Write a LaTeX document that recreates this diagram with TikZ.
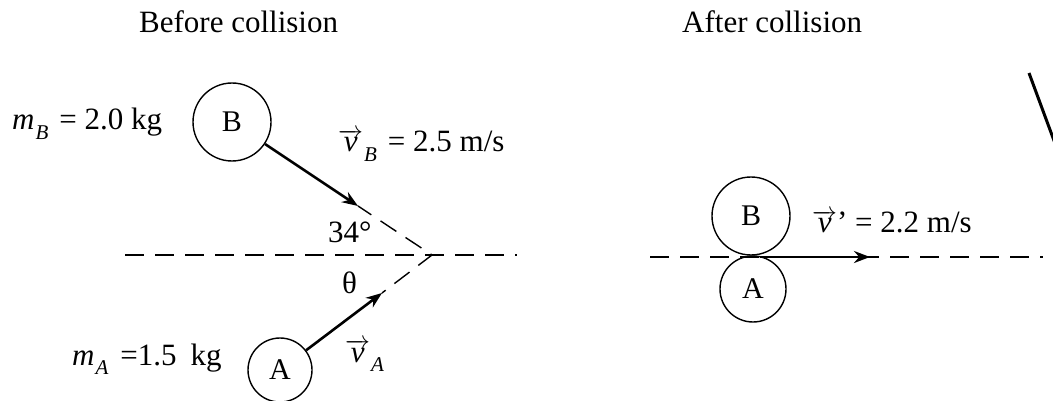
\documentclass[tikz,border=0pt]{standalone}
\usepackage{fontspec}
\setmainfont{Liberation Serif}
\usetikzlibrary{arrows.meta}
\newcommand{\vel}[1]{\ensuremath{\overrightarrow{\mbox{\itshape #1}}}}
\newcommand{\sub}[1]{\raisebox{-0.32em}{\fontsize{21}{21}\selectfont\itshape #1}}

\begin{document}
\begin{tikzpicture}[x=1pt, y=-1pt,
      every node/.style={font=\fontsize{31}{36}\selectfont},
      lbl/.style={anchor=base west, inner sep=0pt},
      ball/.style={draw, circle, line width=1.4pt, inner sep=0pt,
        font=\fontsize{30}{34}\selectfont},
      axis/.style={dash pattern=on 19pt off 11pt, line width=1.4pt},
      vec/.style={line width=2.6pt, -{Stealth[length=16pt, width=12pt]}}]
    \useasboundingbox (0,0) rectangle (1053,401);
    % before collision
    \node[lbl] (before) at (139,33) {Before collision};
    \node[ball, minimum size=78pt] (B) at (232,122) {B};
    \node[ball, minimum size=64pt] (A) at (280,370) {A};
    \coordinate (axisL) at (125,255);
    \coordinate (axisR) at (517,255);
    \coordinate (apex) at (432,255);
    \coordinate (tipB) at (358,206);
    \coordinate (tipA) at (382,293);
    \draw[axis] (axisL) -- (axisR);
    \draw[axis, dash phase=3pt] (tipB) -- (apex) -- (tipA);
    \draw[vec] (B) -- (tipB);
    \draw[vec] (A) -- (tipA);
    \node[lbl] (mB) at (12,130) {\textit{m}\kern1pt\sub{B}\hspace{11pt}= 2.0 kg};
    \node[lbl] (vB) at (338,152) {\vel{v}\kern1pt\sub{B}\hspace{11pt}= 2.5 m/s};
    \node[lbl] (angB) at (328,243) {34°};
    \node[lbl] (angA) at (342,293) {θ};
    \node[lbl] (mA) at (72,365) {\textit{m}\kern1pt\sub{A}\hspace{12pt}=1.5\hspace{14pt}kg};
    \node[lbl] (vA) at (345,362) {\vel{v}\kern1pt\sub{A}};
    % after collision
    \node[lbl] (after) at (682,33) {After collision};
    \node[ball, minimum size=78pt] (B2) at (751,216) {B};
    \node[ball, minimum size=66pt] (A2) at (753,289) {A};
    \coordinate (lineL) at (650,257);
    \coordinate (lineR) at (1043,257);
    \coordinate (touch) at (760,257);
    \coordinate (tipV) at (870,257);
    \draw[axis] (lineL) -- (lineR);
    \draw[vec] (touch) -- (tipV);
    \node[lbl] (vAB) at (812,233) {\vel{v}’ = 2.2 m/s};
    \coordinate (edgeA) at (1029,73);
    \coordinate (edgeB) at (1056,146);
    \draw[line width=3pt] (edgeA) -- (edgeB);
\end{tikzpicture}
\end{document}
